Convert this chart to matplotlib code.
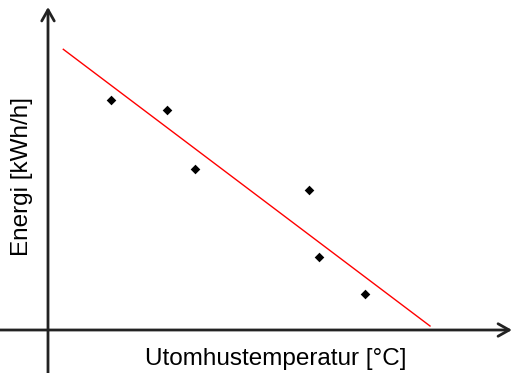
import matplotlib
matplotlib.use("Agg")
import matplotlib.pyplot as plt

# Data (arbitrary units, origin at axes crossing)
temperature = [62.7, 119.0, 147.3, 260.7, 270.7, 317.0]
energy = [229.7, 220.0, 161.3, 140.0, 73.3, 36.3]
fit_x = [15.3, 382.0]
fit_y = [280.7, 4.0]

fig = plt.figure(figsize=(5.13, 3.73), dpi=100)
ax = fig.add_axes([0, 0, 1, 1])
ax.set_xlim(-48, 465)
ax.set_ylim(-43, 330)
ax.axis("off")

ax.plot(fit_x, fit_y, color="red", lw=1.0, zorder=2)
ax.scatter(temperature, energy, marker="D", s=24, color="black", zorder=3, linewidths=0)

ap = dict(arrowstyle="->,head_length=0.8,head_width=0.45", color="#222222", lw=2,
          shrinkA=0, shrinkB=0)
ax.annotate("", xy=(464, 0), xytext=(-48, 0), arrowprops=ap)
ax.annotate("", xy=(0, 323), xytext=(0, -43), arrowprops=ap)

font = ["Liberation Sans", "DejaVu Sans"]
ax.text(228, -29, "Utomhustemperatur [°C]", ha="center", va="center", fontsize=17.5, family=font)
ax.text(-26, 154, "Energi [kWh/h]", ha="center", va="center", rotation=90, fontsize=17.5, family=font)

fig.savefig("out.png", dpi=100)
